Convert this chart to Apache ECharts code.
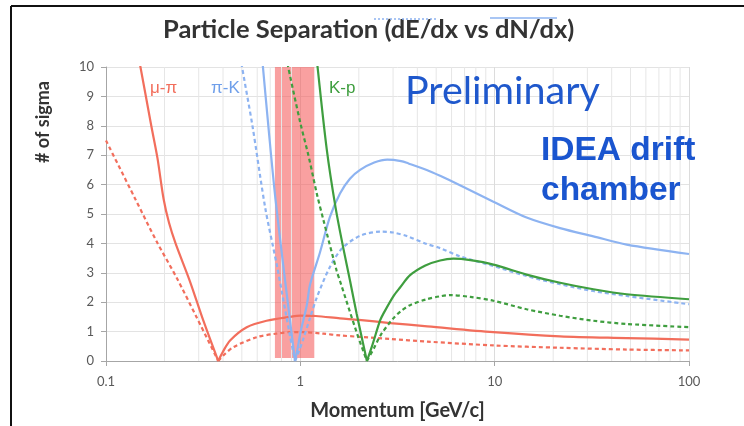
<!DOCTYPE html>
<html>
<head>
<meta charset="utf-8">
<script src="https://cdn.jsdelivr.net/npm/echarts@6/dist/echarts.min.js"></script>
<style>
  html, body { margin: 0; padding: 0; background: #ffffff; }
  #chart { width: 744px; height: 426px; }
</style>
</head>
<body>
<div id="chart"></div>
<script>
// Axis ticks
const xTicks = [0.1, 1, 10, 100];
const yTicks = [0, 1, 2, 3, 4, 5, 6, 7, 8, 9, 10];

// Momentum window where the pi-K separation is lost (GeV/c)
const separationBand = [0.74, 1.18];

// Separation power [momentum GeV/c, # of sigma]
// solid = cluster counting (dN/dx), dashed = energy loss (dE/dx)
const muPi_dNdx = [
  [0.144, 10.6], [0.148, 10.25], [0.171, 8.0], [0.184, 6.9], [0.198, 5.5], [0.211, 4.7],
  [0.228, 4.0], [0.270, 2.72], [0.317, 1.37], [0.378, 0],
  [0.40, 0.32], [0.435, 0.70], [0.53, 1.15], [0.67, 1.37], [0.885, 1.5], [1.0, 1.54],
  [1.2, 1.53], [1.6, 1.45], [2.0, 1.40], [2.9, 1.29], [4.5, 1.18], [9.85, 0.98],
  [21.7, 0.84], [47.8, 0.78], [100, 0.73]
];
const muPi_dEdx = [
  [0.1, 7.5], [0.141, 5.53], [0.182, 4.07], [0.231, 2.83], [0.293, 1.48], [0.378, 0],
  [0.40, 0.18], [0.452, 0.47], [0.596, 0.81], [0.75, 0.93], [0.885, 0.98], [1.05, 0.98],
  [1.31, 0.93], [1.6, 0.87], [2.03, 0.82], [2.9, 0.75], [4.5, 0.66], [9.85, 0.53],
  [21.7, 0.45], [47.8, 0.39], [100, 0.36]
];
const piK_dNdx = [
  [0.630, 10.6], [0.637, 10.25], [0.691, 7.7], [0.745, 5.5], [0.836, 2.7], [0.939, 0],
  [0.97, 0.45], [1.0, 0.95], [1.08, 1.9], [1.122, 2.6], [1.263, 3.7], [1.42, 4.9],
  [1.6, 5.7], [1.8, 6.2], [2.03, 6.5], [2.4, 6.75], [2.8, 6.85], [3.3, 6.8], [3.6, 6.72],
  [4.47, 6.5], [5.24, 6.3], [6.63, 5.98], [9.85, 5.42], [14.6, 4.88], [21.7, 4.52],
  [32.2, 4.24], [47.8, 3.96], [100, 3.64]
];
const piK_dEdx = [
  [0.488, 10.6], [0.494, 10.25], [0.567, 8.0], [0.66, 5.2], [0.756, 3.28], [0.885, 0.85],
  [0.939, 0],
  [0.98, 0.3], [1.036, 0.75], [1.12, 1.45], [1.214, 2.15], [1.42, 3.2], [1.65, 3.85],
  [2.05, 4.27], [2.6, 4.4], [3.0, 4.37], [3.53, 4.25], [4.47, 3.98], [5.24, 3.84],
  [6.63, 3.56], [9.85, 3.23], [14.6, 2.89], [21.7, 2.61], [32.2, 2.38], [47.8, 2.21],
  [100, 1.93]
];
const KP_dNdx = [
  [1.20, 10.6], [1.215, 10.25], [1.367, 7.21], [1.52, 5.2], [1.664, 3.84], [1.803, 2.72],
  [1.95, 1.60], [2.2, 0],
  [2.35, 0.55], [2.57, 1.37], [2.68, 1.62], [3.01, 2.2], [3.26, 2.5], [3.67, 2.92],
  [4.4, 3.25], [5.24, 3.42], [6.13, 3.48], [7.5, 3.43], [9.85, 3.28], [14.6, 2.94],
  [21.7, 2.66], [32.2, 2.44], [47.8, 2.27], [100, 2.10]
];
const KP_dEdx = [
  [0.84, 10.6], [0.851, 10.25], [1.0, 8.1], [1.10, 7.0], [1.215, 5.7], [1.314, 4.8],
  [1.539, 3.06], [1.60, 2.72], [1.95, 0.97], [2.2, 0],
  [2.4, 0.45], [2.6, 0.9], [3.01, 1.45], [3.3, 1.7], [3.67, 1.9], [4.47, 2.1], [5.24, 2.2],
  [5.9, 2.24], [7.5, 2.18], [9.85, 2.05], [14.6, 1.76], [21.7, 1.54], [32.2, 1.37],
  [47.8, 1.26], [100, 1.15]
];

const RED = '#f26e5c';
const BLUE = '#8db3f1';
const GREEN = '#3f9e3f';
const TEXT = '#333333';
const LABEL = '#595959';
const FONT = 'Lato, "Open Sans", sans-serif';
const ARIAL = '"Liberation Sans", Arial, sans-serif';

// Each curve has a sharp zero crossing; draw the two branches as separate smoothed lines
function branches(data) {
  let iMin = 0;
  data.forEach((d, i) => { if (d[1] < data[iMin][1]) iMin = i; });
  return [data.slice(0, iMin + 1), data.slice(iMin)];
}

function curveSeries(name, data, color, dashed) {
  return branches(data).map(part => ({
    name: name,
    type: 'line',
    data: part,
    smooth: 0.3,
    showSymbol: false,
    clip: true,
    z: 2,
    lineStyle: { color: color, width: 2.2, type: dashed ? [4, 3] : 'solid' }
  }));
}

// vertical minor grid lines at 2..9 of every decade
const minorGrid = [];
for (let d = 0; d < xTicks.length - 1; d++) {
  for (let k = 2; k <= 9; k++) minorGrid.push(+(k * xTicks[d]).toPrecision(3));
}

const series = [
  {
    type: 'custom', silent: true, z: 1, clip: true,
    data: minorGrid,
    renderItem: (params, api) => {
      const p = api.value(0);
      const a = api.coord([p, yTicks[0]]);
      const b = api.coord([p, yTicks[yTicks.length - 1]]);
      return {
        type: 'line',
        shape: { x1: a[0], y1: a[1], x2: b[0], y2: b[1] },
        style: { stroke: '#e6e6e6', lineWidth: 1 }
      };
    }
  },
  ...curveSeries('μ-π dN/dx', muPi_dNdx, RED, false),
  ...curveSeries('μ-π dE/dx', muPi_dEdx, RED, true),
  ...curveSeries('π-K dN/dx', piK_dNdx, BLUE, false),
  ...curveSeries('π-K dE/dx', piK_dEdx, BLUE, true),
  ...curveSeries('K-p dN/dx', KP_dNdx, GREEN, false),
  ...curveSeries('K-p dE/dx', KP_dEdx, GREEN, true),
  {
    type: 'line', data: [], silent: true, z: 4,
    markArea: {
      silent: true,
      itemStyle: { color: 'rgba(245, 92, 92, 0.58)' },
      animation: false,
      data: [[{ xAxis: separationBand[0], yAxis: 0.1 }, { xAxis: separationBand[1], yAxis: 10 }]]
    }
  }
];

const chart = echarts.init(document.getElementById('chart'), null, { renderer: 'canvas' });
chart.setOption({
  animation: false,
  backgroundColor: '#ffffff',
  title: {
    text: 'Particle Separation (dE/dx vs dN/dx)',
    left: 158, top: 12,
    textStyle: { fontFamily: FONT, fontSize: 25.5, fontWeight: 'bold', color: TEXT }
  },
  grid: { left: 106, right: 55, top: 67, bottom: 62 },
  xAxis: {
    type: 'log', logBase: 10, min: xTicks[0], max: xTicks[xTicks.length - 1],
    name: 'Momentum [GeV/c]', nameLocation: 'middle', nameGap: 40,
    nameTextStyle: { fontFamily: FONT, fontSize: 20, fontWeight: 'bold', color: TEXT },
    axisLine: { show: true, onZero: false, lineStyle: { color: '#a6a6a6', width: 1 } },
    axisTick: { show: true, length: 5, lineStyle: { color: '#a6a6a6' } },
    axisLabel: {
      fontFamily: FONT, fontSize: 13, color: LABEL, margin: 14,
      formatter: v => { const t = xTicks.find(x => Math.abs(x - v) / x < 1e-6); return t === undefined ? '' : String(t); }
    },
    splitLine: { show: true, lineStyle: { color: '#dcdcdc', width: 1 } },
    minorTick: { show: false }
  },
  yAxis: {
    type: 'value', min: yTicks[0], max: yTicks[yTicks.length - 1], interval: 1,
    axisLine: { show: true, lineStyle: { color: '#a6a6a6', width: 1 } },
    axisTick: { show: true, length: 5, lineStyle: { color: '#a6a6a6' } },
    axisLabel: { fontFamily: FONT, fontSize: 13, color: LABEL, margin: 12 },
    splitLine: { show: true, lineStyle: { color: '#e3e3e3', width: 1 } }
  },
  graphic: [
    // frame
    { type: 'line', shape: { x1: 11, y1: 6, x2: 744, y2: 6 }, style: { stroke: '#111', lineWidth: 2 }, z: 10 },
    { type: 'line', shape: { x1: 11, y1: 6, x2: 11, y2: 426 }, style: { stroke: '#111', lineWidth: 2 }, z: 10 },
    // legend swatches peeking above the title
    { type: 'line', shape: { x1: 374, y1: 19, x2: 438, y2: 19 }, style: { stroke: BLUE, lineWidth: 1.5, lineDash: [2, 2] }, z: 10 },
    { type: 'line', shape: { x1: 490, y1: 18, x2: 557, y2: 18 }, style: { stroke: BLUE, lineWidth: 1.5 }, z: 10 },
    // y-axis title
    {
      type: 'text', x: 43, y: 122, rotation: Math.PI / 2, z: 10,
      style: { text: '# of sigma', fontFamily: FONT, fontSize: 18, fontWeight: 'bold', fill: TEXT, align: 'center', verticalAlign: 'middle' }
    },
    // curve labels
    { type: 'text', x: 150, y: 88, z: 10, style: { text: 'μ-π', fontFamily: ARIAL, fontSize: 17, fill: RED, verticalAlign: 'middle' } },
    { type: 'text', x: 211, y: 88, z: 10, style: { text: 'π-K', fontFamily: ARIAL, fontSize: 17, fill: '#6f9fea', verticalAlign: 'middle' } },
    { type: 'text', x: 329, y: 88, z: 10, style: { text: 'K-p', fontFamily: ARIAL, fontSize: 17, fill: GREEN, verticalAlign: 'middle' } },
    // annotations
    { type: 'text', x: 405, y: 91, z: 10, style: { text: 'Preliminary', fontFamily: FONT, fontSize: 39.5, fill: '#1f58cc', verticalAlign: 'middle' } },
    { type: 'text', x: 541, y: 151, z: 10, style: { text: 'IDEA drift', fontFamily: ARIAL, fontSize: 33.5, fontWeight: 'bold', fill: '#1a55cf', verticalAlign: 'middle' } },
    { type: 'text', x: 541, y: 191, z: 10, style: { text: 'chamber', fontFamily: ARIAL, fontSize: 33.5, fontWeight: 'bold', fill: '#1a55cf', verticalAlign: 'middle' } }
  ],
  series: series
});
</script>
</body>
</html>
